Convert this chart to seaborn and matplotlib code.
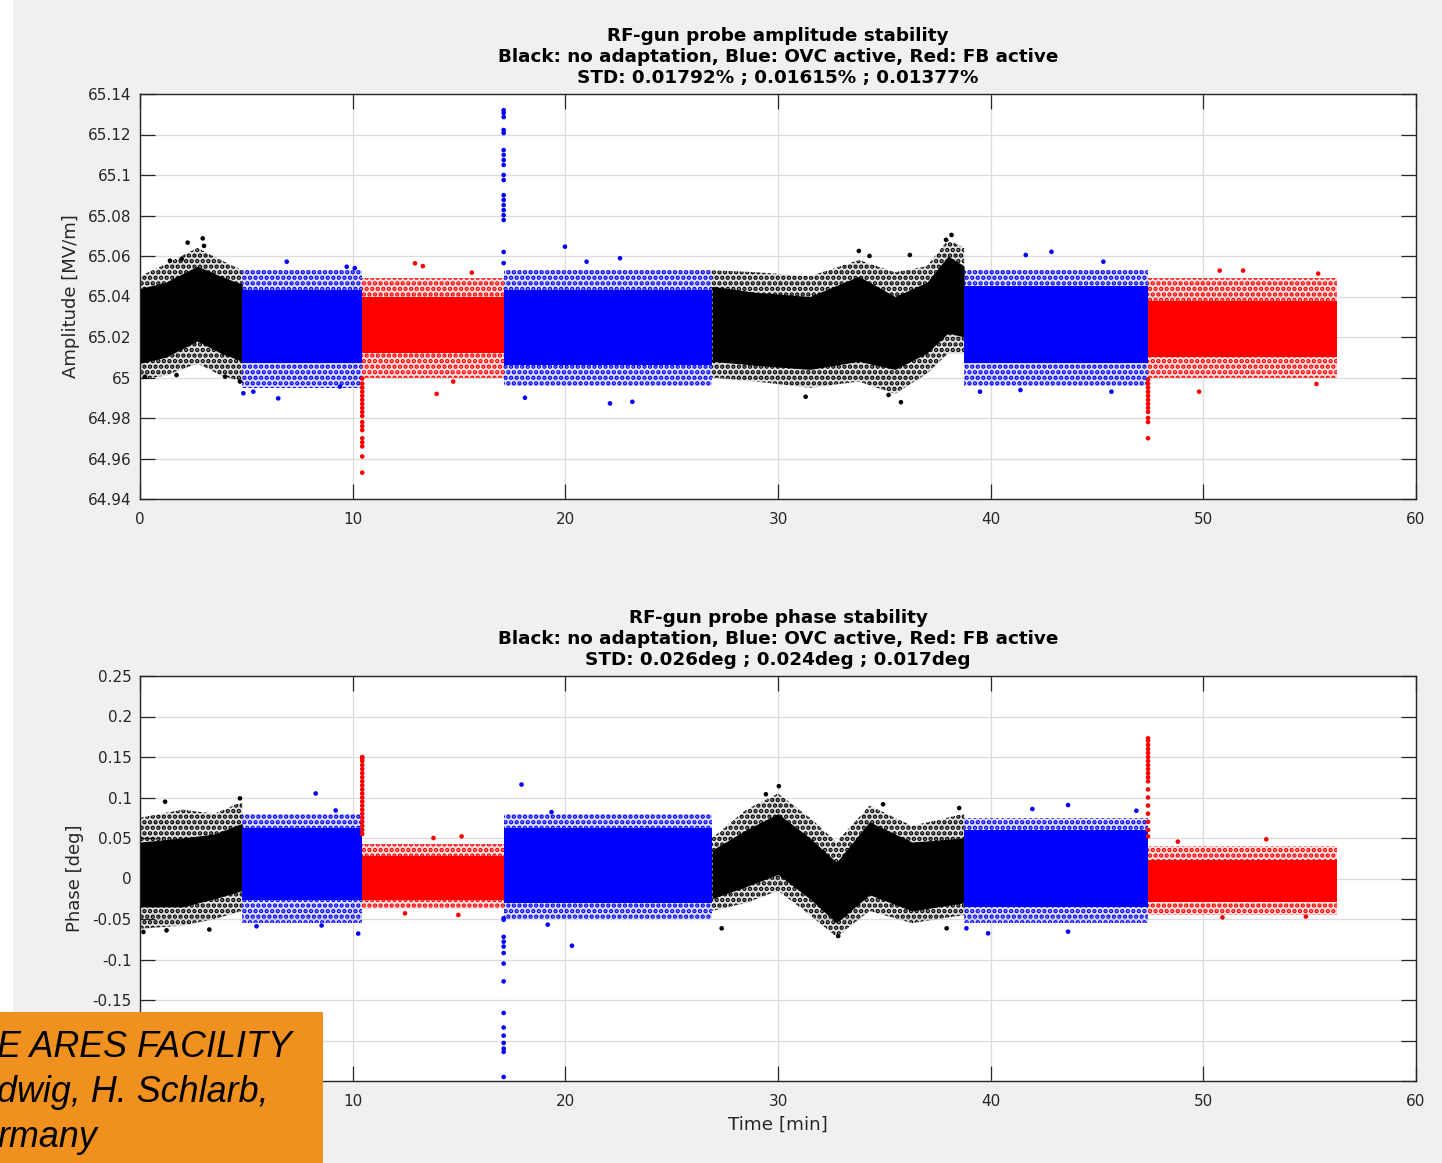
import numpy as np
import pandas as pd
import matplotlib.pyplot as plt
import seaborn as sns
from matplotlib.patches import Rectangle
from matplotlib.ticker import FuncFormatter

# segments of the run (minutes) and what was active in each
SEG_EDGES = [0, 4.8, 10.45, 17.1, 26.9, 38.75, 47.4, 56.3]
SEG_MODE = ["none", "ovc", "fb", "ovc", "none", "ovc", "fb"]
MODE_COLORS = {"none": "#000000", "ovc": "#0000ff", "fb": "#ff0000"}

# ---- amplitude: envelope of the point cloud
AMP_KNOT_X = [[0, 1.2, 2.7, 3.8, 4.8], [4.8, 10.45], [10.45, 17.1], [17.1, 26.9],
              [26.9, 29, 31.5, 33.8, 35.5, 37, 38, 38.75], [38.75, 47.4], [47.4, 56.3]]
AMP_CORE_LO = [[65.007, 65.010, 65.018, 65.012, 65.008], [65.007, 65.007], [65.012, 65.012],
               [65.006, 65.006], [65.008, 65.006, 65.004, 65.008, 65.004, 65.012, 65.022, 65.020],
               [65.007, 65.007], [65.010, 65.010]]
AMP_CORE_HI = [[65.044, 65.047, 65.055, 65.050, 65.046], [65.043, 65.043], [65.040, 65.040],
               [65.043, 65.043], [65.045, 65.042, 65.040, 65.050, 65.040, 65.047, 65.060, 65.055],
               [65.045, 65.045], [65.038, 65.038]]
AMP_OUT_LO = [[64.999, 65.001, 65.007, 65.001, 64.998], [64.995, 64.995], [65.000, 65.000],
              [64.996, 64.996], [65.000, 64.998, 64.995, 64.998, 64.992, 65.002, 65.012, 65.012],
              [64.996, 64.996], [65.000, 65.000]]
AMP_OUT_HI = [[65.050, 65.056, 65.064, 65.058, 65.053], [65.053, 65.053], [65.049, 65.049],
              [65.053, 65.053], [65.053, 65.052, 65.050, 65.058, 65.052, 65.055, 65.068, 65.064],
              [65.053, 65.053], [65.049, 65.049]]
# switching transients
AMP_SPIKE_X = [10.45, 17.1, 47.4]
AMP_SPIKE_Y = [[64.9995, 64.997, 64.995, 64.993, 64.991, 64.989, 64.987, 64.985, 64.983, 64.981,
                64.978, 64.976, 64.974, 64.970, 64.968, 64.966, 64.961, 64.953],
               [65.132, 65.1306, 65.1286, 65.1222, 65.1207, 65.1123, 65.1099, 65.1074, 65.105, 65.1,
                65.0975, 65.09, 65.0877, 65.0852, 65.0827, 65.0802, 65.0778, 65.062, 65.0565],
               [64.999, 64.997, 64.995, 64.993, 64.991, 64.989, 64.987, 64.985, 64.983, 64.980,
                64.978, 64.970]]
# stray points
AMP_OUT_X = [2.24, 2.95, 3.01, 1.96, 1.41, 0.24, 1.72, 4.0, 4.7,
             6.9, 4.86, 6.5, 5.33, 9.4, 9.72, 10.1,
             12.93, 13.3, 13.95, 14.73, 15.6,
             19.98, 22.1, 23.15, 18.1, 22.57, 21.0,
             33.8, 34.3, 36.2, 35.78, 35.2, 31.3, 38.16, 37.9,
             42.86, 41.65, 39.5, 41.4, 45.68, 45.3,
             51.87, 50.77, 49.8, 55.32, 55.4]
AMP_OUT_Y = [65.0666, 65.0687, 65.065, 65.0585, 65.0577, 65.0004, 65.0012, 65.0004, 64.998,
             65.0572, 64.9922, 64.9897, 64.993, 64.9955, 65.0547, 65.054,
             65.0564, 65.055, 64.9919, 64.998, 65.0518,
             65.0646, 64.9872, 64.988, 64.990, 65.0589, 65.0572,
             65.0625, 65.06, 65.0605, 64.9878, 64.9914, 64.9905, 65.0704, 65.068,
             65.0621, 65.0605, 64.993, 64.9938, 64.993, 65.0572,
             65.0528, 65.0528, 64.993, 64.9968, 65.0513]
AMP_TICKS = [64.94, 64.96, 64.98, 65.0, 65.02, 65.04, 65.06, 65.08, 65.1, 65.12, 65.14]

# ---- phase
PH_KNOT_X = [[0, 2, 3.5, 4.8], [4.8, 10.45], [10.45, 17.1], [17.1, 26.9],
             [26.9, 28.5, 30, 31.5, 32.75, 34.3, 36.3, 38.75], [38.75, 47.4], [47.4, 56.3]]
PH_CORE_LO = [[-0.035, -0.035, -0.025, -0.015], [-0.027, -0.027], [-0.026, -0.026], [-0.03, -0.03],
              [-0.025, -0.01, 0.005, -0.025, -0.055, -0.02, -0.04, -0.03], [-0.035, -0.035],
              [-0.029, -0.029]]
PH_CORE_HI = [[0.045, 0.05, 0.055, 0.068], [0.062, 0.062], [0.028, 0.028], [0.062, 0.062],
              [0.035, 0.06, 0.08, 0.05, 0.02, 0.07, 0.045, 0.05], [0.06, 0.06], [0.023, 0.023]]
PH_OUT_LO = [[-0.062, -0.058, -0.05, -0.04], [-0.055, -0.055], [-0.038, -0.038], [-0.05, -0.05],
             [-0.04, -0.03, -0.015, -0.045, -0.072, -0.04, -0.055, -0.045], [-0.055, -0.055],
             [-0.045, -0.045]]
PH_OUT_HI = [[0.075, 0.085, 0.08, 0.095], [0.08, 0.08], [0.042, 0.042], [0.08, 0.08],
             [0.05, 0.085, 0.105, 0.075, 0.045, 0.09, 0.065, 0.08], [0.075, 0.075], [0.04, 0.04]]
PH_SPIKE_X = [10.45, 17.1, 47.4]
PH_SPIKE_Y = [[0.15, 0.148, 0.145, 0.14, 0.135, 0.13, 0.125, 0.12, 0.115, 0.11, 0.105, 0.1,
               0.095, 0.09, 0.085, 0.08, 0.075, 0.07, 0.065, 0.06, 0.055],
              [-0.049, -0.051, -0.072, -0.078, -0.084, -0.092, -0.105, -0.127, -0.166, -0.184,
               -0.194, -0.203, -0.210, -0.214, -0.245],
              [0.173, 0.17, 0.165, 0.16, 0.155, 0.15, 0.145, 0.14, 0.135, 0.13, 0.125, 0.12,
               0.11, 0.1, 0.09, 0.08, 0.07, 0.06, 0.052]]
PH_OUT_X = [1.18, 4.7, 0.16, 1.25, 3.26,
            8.26, 10.26, 5.48, 8.54, 9.2,
            15.12, 13.8, 14.97, 12.46,
            17.94, 20.31, 19.35, 19.17,
            30.04, 29.43, 32.83, 34.94, 38.52, 37.93, 27.35,
            41.96, 43.64, 39.88, 38.86, 43.64, 46.85,
            52.96, 48.8, 54.82, 50.9]
PH_OUT_Y = [0.0948, 0.099, -0.066, -0.064, -0.063,
            0.105, -0.068, -0.059, -0.058, 0.084,
            0.052, 0.05, -0.045, -0.043,
            0.116, -0.083, 0.082, -0.057,
            0.114, 0.104, -0.071, 0.0916, 0.087, -0.0615, -0.0615,
            0.0858, 0.0907, -0.0677, -0.0615, -0.0656, 0.0837,
            0.0484, 0.0455, -0.047, -0.048]
PH_TICKS = [-0.25, -0.2, -0.15, -0.1, -0.05, 0, 0.05, 0.1, 0.15, 0.2, 0.25]

X_TICKS = [0, 10, 20, 30, 40, 50, 60]

AMP_TITLE = ("RF-gun probe amplitude stability\n"
             "Black: no adaptation, Blue: OVC active, Red: FB active\n"
             "STD: 0.01792% ; 0.01615% ; 0.01377%")
PH_TITLE = ("RF-gun probe phase stability\n"
            "Black: no adaptation, Blue: OVC active, Red: FB active\n"
            "STD: 0.026deg ; 0.024deg ; 0.017deg")
BOX_LINES = ["E ARES FACILITY", "dwig, H. Schlarb,", "rmany"]

sns.set_theme(style="whitegrid")
plt.rcParams['font.family'] = ['DejaVu Sans']
plt.rcParams['hatch.linewidth'] = 2.2

W, H = 1442, 1163
fig = plt.figure(figsize=(W / 100, H / 100), dpi=100, facecolor="#f0f0f0")
fig.add_artist(Rectangle((0, 0), 13 / W, 1, transform=fig.transFigure,
                         facecolor="white", edgecolor="none", zorder=-5))

ax1 = fig.add_axes([140 / W, 1 - 499 / H, 1276 / W, 405 / H])
ax2 = fig.add_axes([140 / W, 1 - 1081 / H, 1276 / W, 405 / H])


def mode_of(x):
    i = np.searchsorted(SEG_EDGES, x, side="right") - 1
    return SEG_MODE[min(max(i, 0), len(SEG_MODE) - 1)]


def panel(ax, kx, lo, hi, olo, ohi, spx, spy, ox, oy):
    for i, mode in enumerate(SEG_MODE):
        c = MODE_COLORS[mode]
        # sparse fringe of the cloud: speckled hatch
        ax.fill_between(kx[i], olo[i], ohi[i], facecolor=c, alpha=0.12, lw=0, zorder=2)
        ax.fill_between(kx[i], olo[i], ohi[i], facecolor="none", edgecolor=c,
                        hatch="...", lw=0, zorder=2)
        # dense core
        ax.fill_between(kx[i], lo[i], hi[i], color=c, lw=0, zorder=3)
    rows = []
    for x, ys in zip(spx, spy):
        for y in ys:
            rows.append((x, y, mode_of(x + 0.01)))
    for x, y in zip(ox, oy):
        rows.append((x, y, mode_of(x)))
    df = pd.DataFrame(rows, columns=["t", "v", "mode"])
    sns.scatterplot(data=df, x="t", y="v", hue="mode", palette=MODE_COLORS, s=11,
                    linewidth=0, legend=False, ax=ax, zorder=4)


panel(ax1, AMP_KNOT_X, AMP_CORE_LO, AMP_CORE_HI, AMP_OUT_LO, AMP_OUT_HI,
      AMP_SPIKE_X, AMP_SPIKE_Y, AMP_OUT_X, AMP_OUT_Y)
panel(ax2, PH_KNOT_X, PH_CORE_LO, PH_CORE_HI, PH_OUT_LO, PH_OUT_HI,
      PH_SPIKE_X, PH_SPIKE_Y, PH_OUT_X, PH_OUT_Y)

fmt = FuncFormatter(lambda v, p: "%g" % round(v, 4))
for ax, ticks, lim, title, ylab in [
        (ax1, AMP_TICKS, (64.94, 65.14), AMP_TITLE, "Amplitude [MV/m]"),
        (ax2, PH_TICKS, (-0.25, 0.25), PH_TITLE, "Phase [deg]")]:
    ax.set_facecolor("white")
    ax.set_xlim(0, 60)
    ax.set_ylim(*lim)
    ax.set_xticks(X_TICKS)
    ax.set_yticks(ticks)
    ax.yaxis.set_major_formatter(fmt)
    ax.xaxis.set_major_formatter(fmt)
    ax.grid(True, color="#dcdcdc", lw=0.9)
    ax.set_axisbelow(True)
    for sp in ax.spines.values():
        sp.set_color("#262626")
        sp.set_linewidth(1.0)
        sp.set_zorder(6)
    ax.tick_params(direction="in", length=11, width=0.9, color="#262626",
                   top=True, right=True, bottom=True, left=True,
                   labeltop=False, labelright=False,
                   labelsize=11, labelcolor="#262626")
    ax.tick_params(axis="x", pad=9)
    ax.tick_params(axis="y", pad=6)
    ax.set_title(title, fontsize=13.2, fontweight="bold", color="black",
                 linespacing=1.21, pad=8)
    ax.set_ylabel(ylab, fontsize=13, color="#262626", labelpad=6)
    ax.set_xlabel("")

ax2.set_xlabel("Time [min]", fontsize=13.2, color="#262626", labelpad=5)

# orange slide overlay at bottom left
fig.add_artist(Rectangle((0, 0), 323 / W, 151 / H, transform=fig.transFigure,
                         facecolor="#f0901f", edgecolor="none", zorder=10))
for line, yb in zip(BOX_LINES, [1057, 1102, 1147]):
    fig.text(-3 / W, 1 - yb / H, line, fontsize=25.8, style="italic",
             family=["Liberation Sans", "DejaVu Sans"], color="black",
             va="baseline", ha="left", zorder=11)

fig.savefig("out.png", dpi=100, facecolor=fig.get_facecolor())
